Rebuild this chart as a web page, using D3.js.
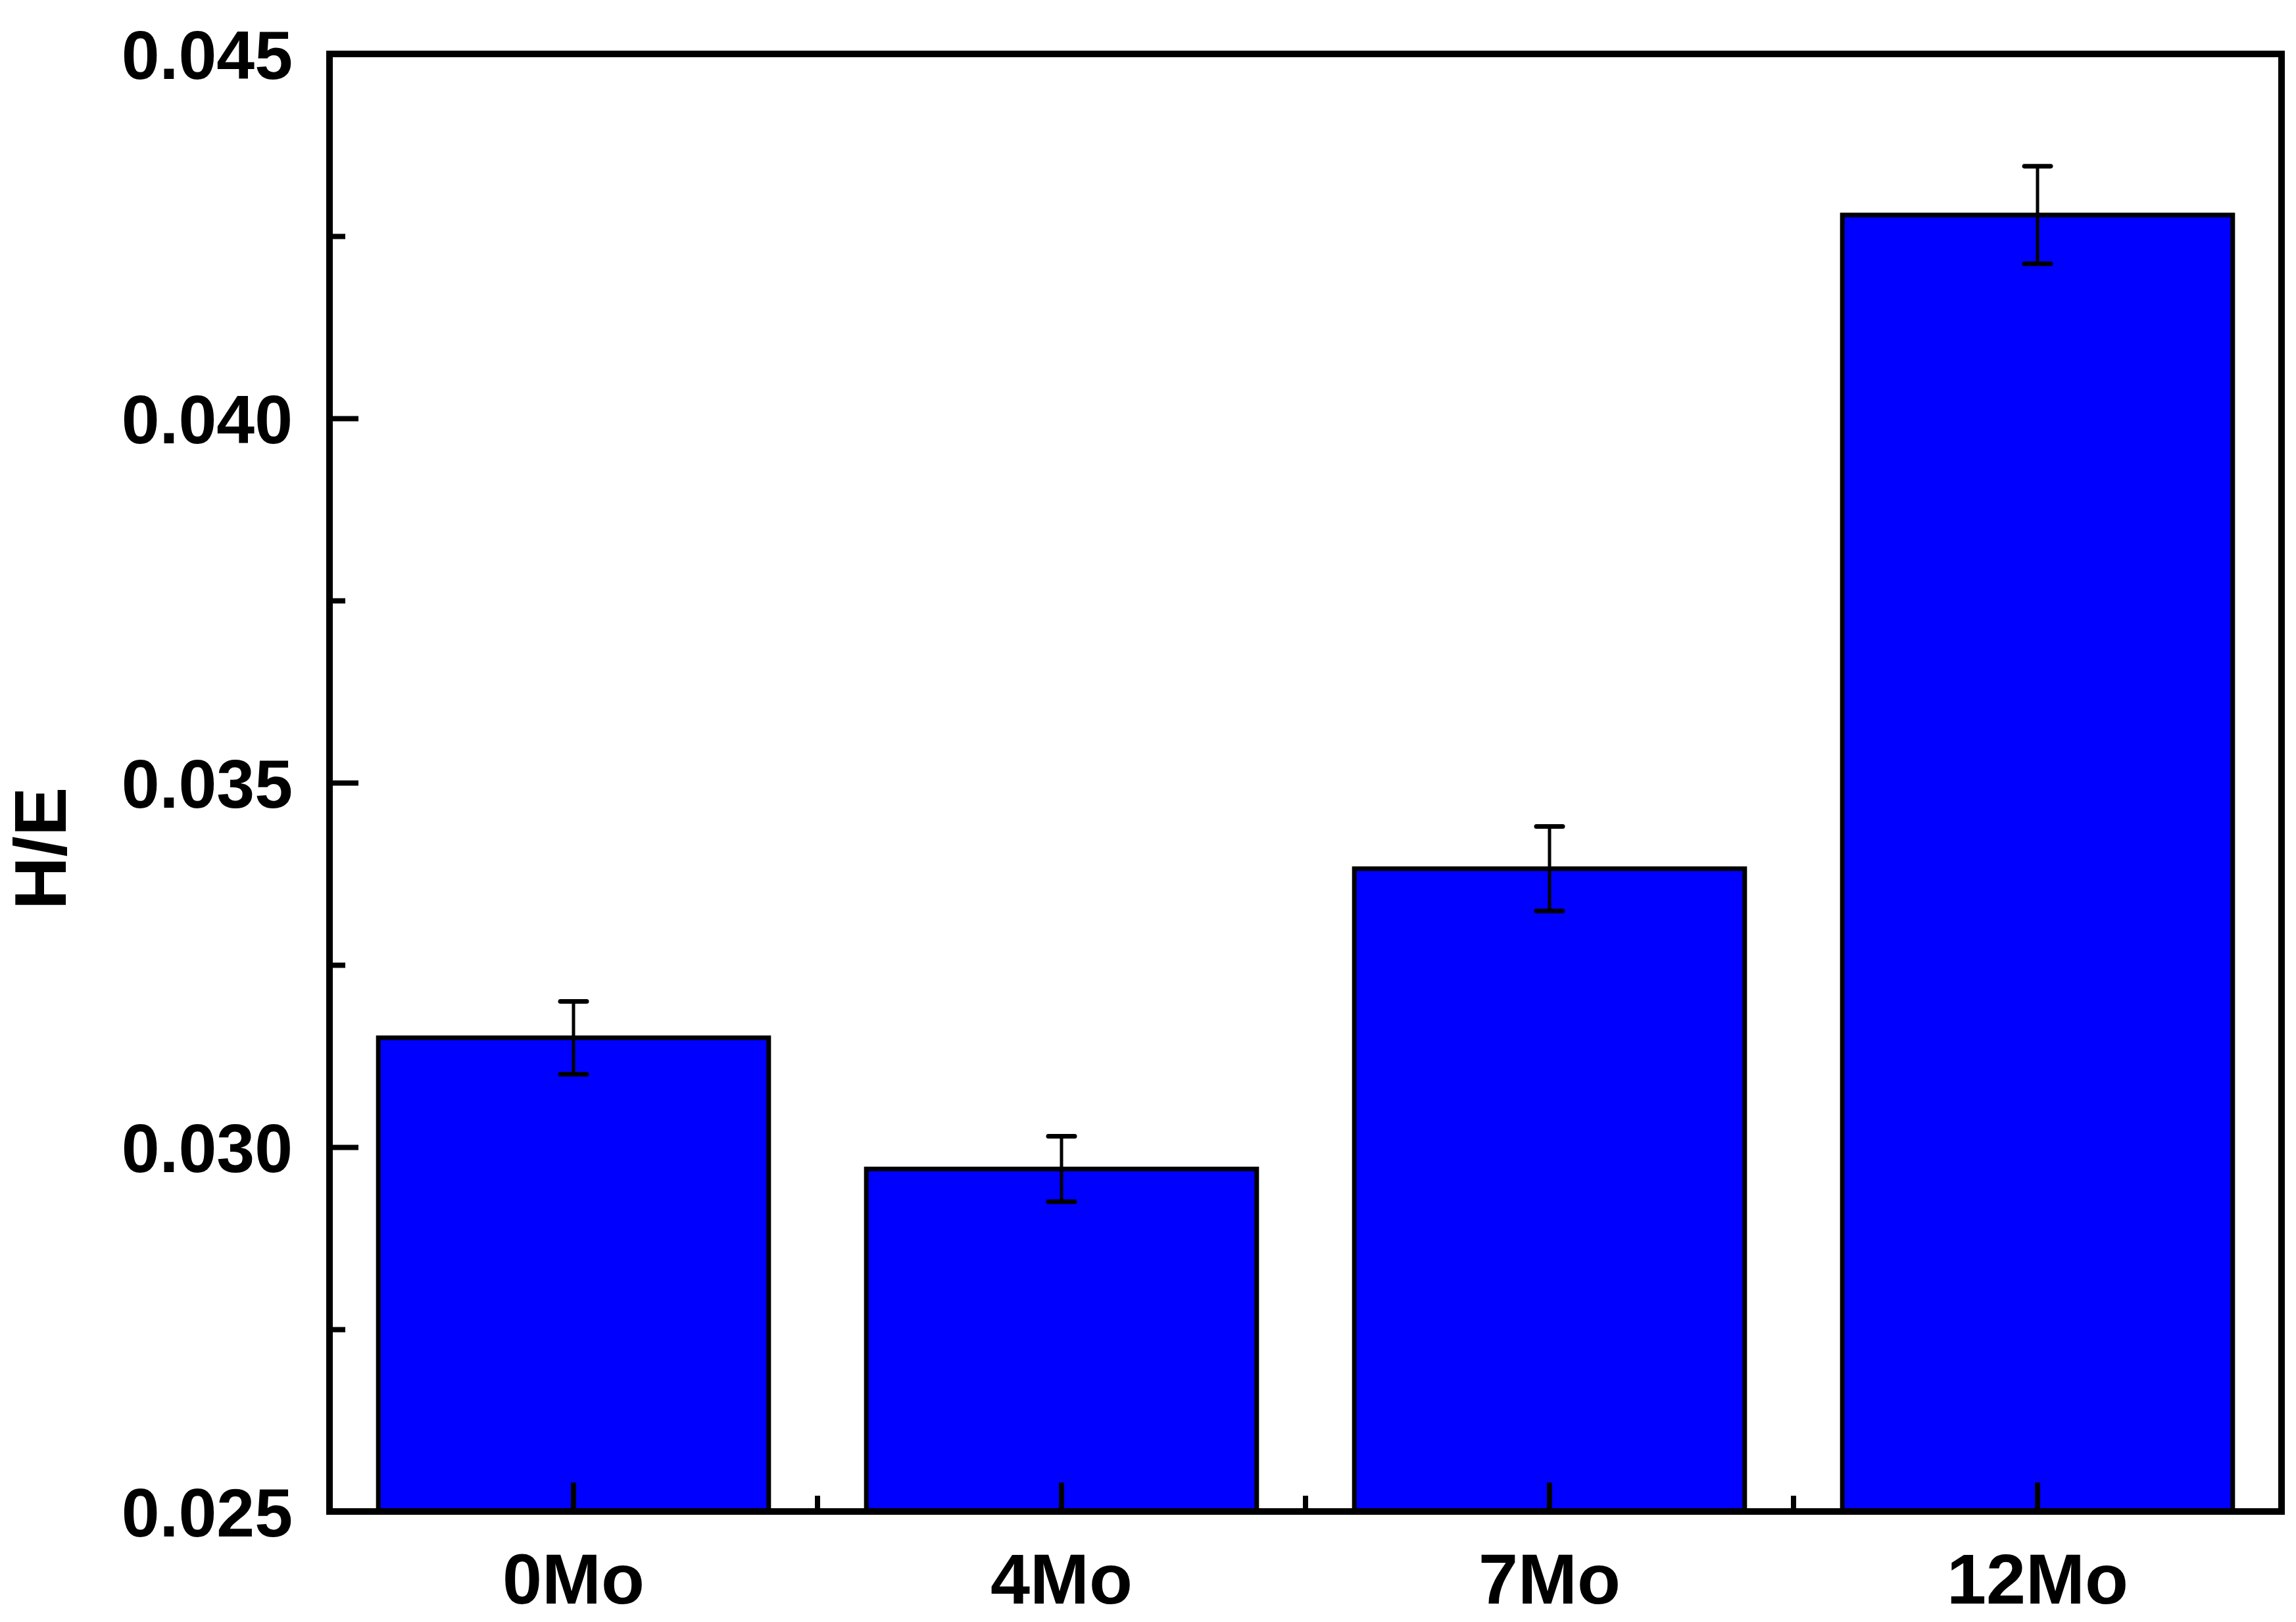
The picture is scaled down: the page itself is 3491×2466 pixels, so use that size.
<!DOCTYPE html>
<html><head><meta charset="utf-8">
<script src="https://cdn.jsdelivr.net/npm/d3@7"></script>
<style>body{margin:0;background:#fff}text{font-family:"Liberation Sans",Arial,sans-serif;font-weight:bold;fill:#000}</style>
</head><body>
<script>
const categories = ["0Mo","4Mo","7Mo","12Mo"];
const values = [0.03150, 0.02970, 0.03382, 0.04279];
const errors = [0.00050, 0.00045, 0.00058, 0.00067];
const yTicks = [0.025, 0.030, 0.035, 0.040, 0.045];
const yMinor = [0.0275, 0.0325, 0.0375, 0.0425];
const yTitle = "H/E";

const W = 3491, H = 2466;
const m = {left: 501, top: 82, right: 22, bottom: 168};
const iw = W - m.left - m.right, ih = H - m.top - m.bottom;

const svg = d3.select("body").append("svg").attr("width", W).attr("height", H);
const g = svg.append("g").attr("transform", `translate(${m.left},${m.top})`);

const x = d3.scaleBand().domain(categories).range([0, iw]).paddingInner(0.2).paddingOuter(0.1);
const xOuter = d3.scaleBand().domain(categories).range([0, iw]);
const y = d3.scaleLinear().domain([0.025, 0.045]).range([ih, 0]);

// bars
g.selectAll("rect.bar").data(values).join("rect")
  .attr("x", (d,i) => x(categories[i]))
  .attr("y", d => y(d))
  .attr("width", x.bandwidth())
  .attr("height", d => ih - y(d))
  .attr("fill", "#0000FF").attr("stroke", "#000").attr("stroke-width", 7);

// error bars
const eb = g.selectAll("g.err").data(values).join("g")
  .attr("transform", (d,i) => `translate(${x(categories[i]) + x.bandwidth()/2},0)`);
eb.append("line").attr("y1", (d,i) => y(d + errors[i])).attr("y2", (d,i) => y(d - errors[i]))
  .attr("stroke", "#000").attr("stroke-width", 5);
eb.append("line").attr("x1", -20).attr("x2", 20).attr("y1", (d,i) => y(d + errors[i])).attr("y2", (d,i) => y(d + errors[i]))
  .attr("stroke", "#000").attr("stroke-width", 7).attr("stroke-linecap", "round");
eb.append("line").attr("x1", -20).attr("x2", 20).attr("y1", (d,i) => y(d - errors[i])).attr("y2", (d,i) => y(d - errors[i]))
  .attr("stroke", "#000").attr("stroke-width", 7).attr("stroke-linecap", "round");

// y axis (ticks inward)
const yAxis = g.append("g").call(d3.axisLeft(y).tickValues(yTicks).tickFormat(d3.format(".3f")).tickSize(-44).tickPadding(56));
yAxis.select(".domain").remove();
yAxis.selectAll(".tick line").attr("stroke-width", 8);
yAxis.selectAll(".tick text").attr("font-size", 104).attr("x", -56).attr("dy", "0.36em");
const yAxisMinor = g.append("g").call(d3.axisLeft(y).tickValues(yMinor).tickFormat("").tickSize(-24));
yAxisMinor.select(".domain").remove();
yAxisMinor.selectAll(".tick line").attr("stroke-width", 8);

// x axis (ticks inward)
const xAxis = g.append("g").attr("transform", `translate(0,${ih})`)
  .call(d3.axisBottom(x).tickSize(-44).tickPadding(0));
xAxis.select(".domain").remove();
xAxis.selectAll(".tick line").attr("stroke-width", 8);
xAxis.selectAll(".tick text").attr("font-size", 108).attr("y", 140).attr("dy", 0);
const xMinorVals = categories.slice(1).map(c => xOuter(c));
g.append("g").selectAll("line").data(xMinorVals).join("line")
  .attr("x1", d => d).attr("x2", d => d).attr("y1", ih).attr("y2", ih - 24)
  .attr("stroke", "#000").attr("stroke-width", 8);

// frame
g.append("rect").attr("x", 0).attr("y", 0).attr("width", iw).attr("height", ih)
  .attr("fill", "none").attr("stroke", "#000").attr("stroke-width", 10);

// y title
svg.append("text").attr("transform", `translate(100,1290) rotate(-90)`)
  .attr("text-anchor", "middle").attr("font-size", 112).text(yTitle);
</script>
</body></html>
